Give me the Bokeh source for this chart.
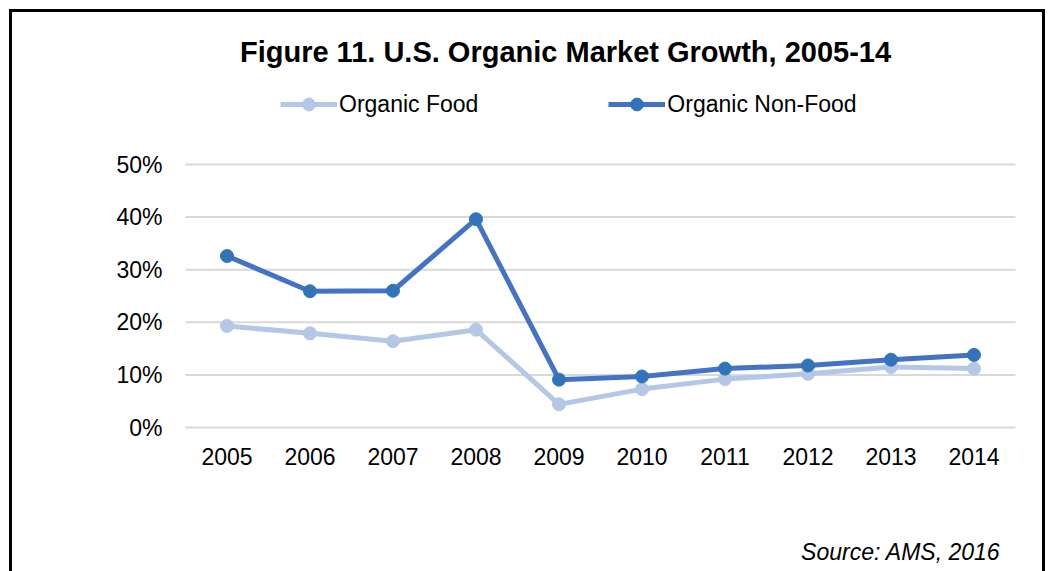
from bokeh.plotting import figure
from bokeh.models import Legend, LegendItem, FixedTicker, PrintfTickFormatter, Range1d, Label
from bokeh.embed import file_html
from bokeh.resources import INLINE

# ---- data ----
years = [2005, 2006, 2007, 2008, 2009, 2010, 2011, 2012, 2013, 2014]
organic_food = [19.3, 17.9, 16.4, 18.6, 4.4, 7.3, 9.2, 10.2, 11.5, 11.2]
organic_non_food = [32.6, 25.9, 26.0, 39.6, 9.1, 9.7, 11.2, 11.8, 12.9, 13.8]
y_ticks = [0, 10, 20, 30, 40, 50]
title_text = "Figure 11. U.S. Organic Market Growth, 2005-14"
source_text = "Source: AMS, 2016"
series_names = ["Organic Food", "Organic Non-Food"]

FONT = "Liberation Sans"

# ---- layout (pixels) ----
W, H = 1052, 571
PLOT_L, PLOT_R, PLOT_T, PLOT_B = 185, 1015, 164, 427
x_lo, x_hi = years[0] - 0.5, years[-1] + 0.5
y_lo, y_hi = y_ticks[0], y_ticks[-1]
xs = (x_hi - x_lo) / (PLOT_R - PLOT_L)
ys = (y_hi - y_lo) / (PLOT_B - PLOT_T)
x_range = Range1d(x_lo - PLOT_L * xs, x_hi + (W - PLOT_R) * xs)
y_range = Range1d(y_lo - (H - PLOT_B) * ys, y_hi + PLOT_T * ys)

p = figure(width=W, height=H, output_backend="svg", toolbar_location=None,
           x_range=x_range, y_range=y_range,
           min_border_left=0, min_border_right=0, min_border_top=0, min_border_bottom=0)
p.title.visible = False
p.styles = {
    "background": ("linear-gradient(#000,#000) 9px 9px / 3px 600px no-repeat, "
                   "linear-gradient(#000,#000) 9px 9px / 1036px 3px no-repeat, "
                   "linear-gradient(#000,#000) 1042px 9px / 3px 600px no-repeat, #ffffff")
}
p.border_fill_color = None
p.background_fill_color = None
p.outline_line_color = None
p.xgrid.visible = False
p.ygrid.visible = False

# axes placed at the plot-area edges
p.xaxis.fixed_location = y_lo
p.yaxis.fixed_location = x_lo
p.xaxis.ticker = FixedTicker(ticks=years)
p.yaxis.ticker = FixedTicker(ticks=y_ticks)
p.yaxis.formatter = PrintfTickFormatter(format="%d%%")
for ax in (p.xaxis, p.yaxis):
    ax.axis_line_color = None
    ax.major_tick_line_color = None
    ax.minor_tick_line_color = None
    ax.major_tick_out = 0
    ax.major_tick_in = 0
    ax.major_label_text_font = FONT
    ax.major_label_text_font_size = "23px"
    ax.major_label_text_color = "#000000"
p.yaxis.major_label_standoff = 23
p.xaxis.major_label_standoff = 20

# horizontal gridlines across the plot area
p.segment(x0=x_lo, x1=x_hi, y0=y_ticks, y1=y_ticks, line_color="#D9D9D9", line_width=2)

food_color = "#B4C7E7"
nonfood_line = "#4472C4"
nonfood_marker = "#3274BA"

l1 = p.line(years, organic_food, line_color=food_color, line_width=5)
s1 = p.scatter(years, organic_food, size=13, fill_color=food_color, line_color=food_color)
l2 = p.line(years, organic_non_food, line_color=nonfood_line, line_width=5)
s2 = p.scatter(years, organic_non_food, size=13, fill_color=nonfood_marker, line_color=nonfood_marker)

legend = Legend(items=[LegendItem(label=series_names[0], renderers=[l1, s1]),
                       LegendItem(label=series_names[1], renderers=[l2, s2])],
                orientation="horizontal", location=(280, H - 104 - 16),
                glyph_width=57, glyph_height=32, label_height=24, label_standoff=2, spacing=130,
                padding=0, margin=0, border_line_color=None, background_fill_alpha=0,
                label_text_font=FONT, label_text_font_size="23px", label_text_color="#000000")
p.add_layout(legend)

title = Label(x=565, y=H - 51, x_units="screen", y_units="screen", text=title_text,
              text_align="center", text_baseline="alphabetic",
              text_font=FONT, text_font_size="29px", text_font_style="bold", text_color="#000000")
p.add_layout(title)

source = Label(x=1000, y=H - 551, x_units="screen", y_units="screen", text=source_text,
               text_align="right", text_baseline="alphabetic",
               text_font=FONT, text_font_size="23px", text_font_style="italic", text_color="#000000")
p.add_layout(source)

open("out.html", "w").write(file_html(p, INLINE))
